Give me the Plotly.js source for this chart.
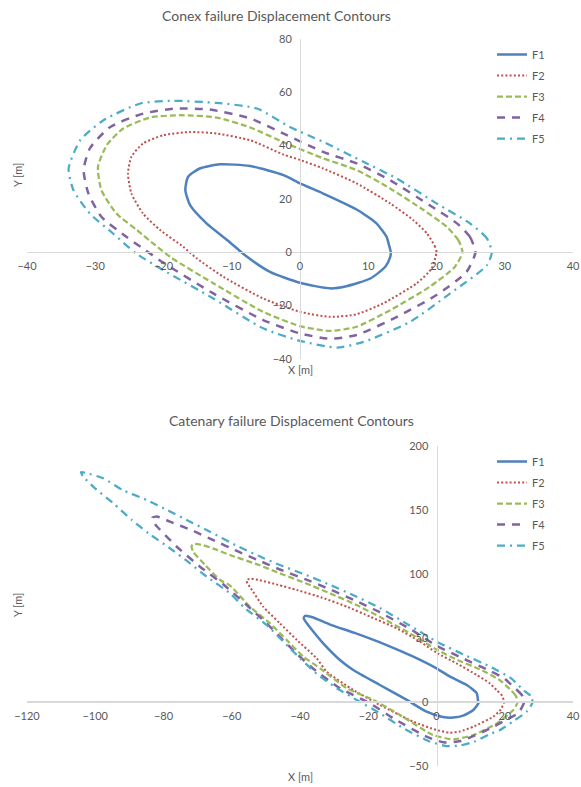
<!DOCTYPE html>
<html><head><meta charset="utf-8">
<script src="https://cdn.plot.ly/plotly-3.0.1.min.js"></script>
<style>html,body{margin:0;padding:0;background:#fff}</style>
</head><body><div id="chart" style="width:581px;height:787px"></div>
<script>
// ---------- data ----------
const seriesNames = ['F1','F2','F3','F4','F5'];

// Conex failure (top chart)
const conexF1x = [13.3, 13.0, 12.7, 11.2, 8.3, 3.4, 0, -2.4, -7.3, -11.7, -14.7, -16.4, -16.8, -16.1, -13.7, -10.5, -8.0, -4.4, 0, 4.4, 6.8, 10.3, 12.5, 13.2, 13.3];
const conexF1y = [0, 3.0, 5.7, 10.8, 16.0, 22.0, 25.8, 28.9, 32.3, 33.0, 31.4, 28.3, 23.3, 17.6, 10.8, 4.2, -1.3, -7.4, -11.5, -13.6, -12.8, -9.9, -5.5, -2.0, 0];
const conexF2x = [20.0, 19.8, 18.6, 16.6, 13.2, 8.3, 3.4, 0, -2.4, -7.3, -12.2, -16.1, -20.0, -23.0, -24.7, -25.2, -24.7, -23.0, -20.5, -17.1, -15.1, -11.2, -5.4, 0, 4.4, 8.3, 12.2, 17.1, 19.3, 20.0];
const conexF2y = [0, 2.0, 7.0, 12.0, 18.3, 25.8, 31.4, 34.6, 36.6, 42.0, 44.5, 45.1, 43.9, 40.8, 35.8, 29.5, 22.0, 14.5, 8.3, 2.0, -2.4, -9.3, -17.4, -22.4, -24.3, -23.3, -19.2, -11.7, -6.1, 0];
const conexF3x = [23.8, 23.2, 21.5, 18.1, 13.2, 8.3, 3.4, -2.0, -7.3, -12.2, -17.6, -22.0, -25.9, -28.3, -29.6, -29.1, -26.9, -23.9, -21.2, -18.9, -12.7, -5.4, 0, 4.4, 8.3, 13.2, 19.0, 22.7, 23.8];
const conexF3y = [0, 4.5, 9.5, 15.8, 23.9, 30.8, 35.2, 40.8, 46.8, 50.5, 51.4, 50.5, 46.4, 40.2, 32.0, 23.3, 14.5, 8.3, 2.6, -2.0, -11.7, -22.4, -27.8, -29.6, -28.0, -21.8, -13.0, -5.5, 0];
const conexF4x = [25.7, 24.9, 23.0, 19.0, 13.2, 8.3, 3.4, -2.0, -7.3, -13.2, -18.1, -23.0, -27.8, -30.8, -31.7, -31.0, -29.1, -25.4, -22.7, -20.0, -12.7, -5.4, 0, 4.4, 8.3, 14.2, 20.0, 24.4, 25.7];
const conexF4y = [0, 5.7, 10.8, 17.6, 27.0, 33.3, 37.6, 44.0, 50.2, 53.5, 53.9, 52.0, 47.0, 38.9, 30.8, 22.0, 13.3, 5.7, 0.8, -4.0, -15.5, -25.5, -30.5, -32.5, -31.1, -24.3, -16.1, -7.4, 0];
const conexF5x = [28.1, 27.4, 24.9, 20.0, 14.2, 9.3, 3.4, -1.5, -6.3, -12.2, -18.6, -23.4, -28.8, -32.2, -33.9, -33.2, -30.8, -27.4, -24.0, -20.0, -12.7, -5.4, 0, 5.4, 9.3, 16.1, 22.0, 27.4, 28.1];
const conexF5y = [0, 5.1, 10.8, 18.3, 27.6, 33.9, 41.4, 47.0, 53.9, 56.0, 56.8, 55.8, 49.5, 42.0, 31.4, 23.3, 14.5, 7.0, -0.5, -6.8, -17.4, -28.6, -33.3, -35.8, -33.7, -26.2, -15.5, -4.9, 0];

// Catenary failure (bottom chart)
const catF1x = [12.2, 11.8, 8.9, 4.0, 0, -6.8, -14.6, -24.0, -31.2, -36.1, -38.5, -38.9, -38.0, -36.7, -33.2, -28.3, -24.4, -16.6, -8.7, -2.9, 1.5, 4.9, 8.0, 10.8, 12.3, 12.2];
const catF1y = [0.2, 6.8, 13.3, 19.8, 26.3, 35.4, 44.5, 54.0, 60.5, 66.0, 67.3, 65.5, 61.5, 57.0, 45.8, 32.8, 25.0, 13.3, 1.6, -7.6, -11.5, -12.2, -10.5, -6.3, -1.0, 0.2];
const catF2x = [19.8, 19.2, 17.6, 15.4, 11.8, 6.0, 0, -5.0, -11.7, -19.3, -26.3, -33.5, -40.9, -46.4, -52.0, -54.8, -55.6, -55.4, -54.7, -50.8, -45.9, -40.9, -35.1, -32.2, -24.4, -16.6, -6.8, 0, 4.0, 6.9, 10.8, 16.6, 18.8, 19.8];
const catF2y = [0, 5.0, 9.4, 15.0, 21.1, 30.0, 38.5, 47.5, 57.6, 66.5, 74.5, 81.5, 87.5, 91.5, 95.3, 96.4, 95.0, 92.5, 90.0, 74.5, 61.5, 48.4, 34.1, 23.7, 9.4, -2.3, -15.4, -21.9, -24.0, -23.0, -19.3, -11.5, -6.0, 0];
const catF3x = [23.8, 23.2, 21.5, 18.6, 12.7, 6.0, 0, -8.0, -16.6, -24.0, -31.2, -38.5, -45.9, -52.0, -60.5, -64.5, -68.5, -71.2, -71.8, -71.3, -67.8, -63.4, -60.5, -54.7, -48.8, -43.9, -39.0, -34.1, -26.3, -18.5, -10.7, -1.0, 4.9, 10.8, 17.7, 22.5, 23.8];
const catF3y = [0, 5.0, 10.0, 17.0, 25.5, 33.0, 41.0, 54.0, 66.5, 76.5, 84.9, 93.0, 100.5, 107.0, 114.8, 119.0, 122.6, 123.5, 121.5, 117.4, 107.0, 95.3, 91.0, 74.5, 61.5, 48.4, 35.4, 26.3, 10.7, 1.6, -10.2, -25.8, -29.2, -25.8, -16.7, -6.3, 0];
const catF4x = [25.7, 25.0, 22.5, 19.7, 14.7, 7.8, 0, -8.0, -16.6, -24.0, -31.2, -38.5, -45.9, -52.0, -58.5, -65.4, -72.0, -78.1, -82.0, -83.3, -82.5, -76.1, -69.3, -62.5, -59.5, -55.6, -49.8, -45.9, -40.9, -36.1, -28.3, -19.5, -12.7, -2.9, 2.0, 7.0, 15.5, 21.0, 24.0, 25.7];
const catF4y = [0, 5.5, 12.0, 18.8, 25.5, 34.0, 44.0, 57.5, 70.0, 79.5, 88.0, 96.0, 103.5, 110.5, 118.0, 126.5, 134.5, 140.9, 145.0, 144.0, 139.0, 121.3, 105.7, 92.0, 84.9, 75.8, 61.5, 51.0, 37.5, 26.0, 10.7, -1.0, -12.7, -27.1, -31.5, -30.5, -21.0, -13.0, -8.8, 0];
const catF5x = [28.2, 27.5, 25.4, 21.9, 15.7, 8.0, 0.5, -8.0, -16.6, -24.0, -31.2, -38.5, -45.9, -52.0, -58.5, -66.4, -72.2, -78.9, -84.9, -91.9, -97.6, -102.8, -104.2, -103.5, -100.1, -94.7, -89.3, -84.4, -78.1, -72.2, -67.3, -60.5, -56.1, -49.8, -42.0, -35.1, -29.2, -23.4, -16.6, -9.7, -1.9, 3.0, 6.9, 11.0, 15.7, 18.6, 22.5, 26.4, 28.2];
const catF5y = [0, 5.0, 9.4, 18.5, 27.6, 37.0, 46.5, 60.0, 73.5, 83.0, 91.5, 99.5, 107.0, 114.0, 122.0, 133.1, 140.9, 149.9, 157.8, 165.5, 174.7, 179.0, 179.6, 176.0, 167.0, 155.2, 142.2, 131.8, 120.1, 108.3, 97.9, 84.9, 73.2, 60.2, 39.5, 22.0, 10.7, 1.6, -8.8, -20.5, -31.0, -34.4, -34.0, -31.0, -25.0, -21.9, -15.0, -7.6, 0];

const conexTickVals = {x: [-40, -30, -20, -10, 0, 10, 20, 30, 40], y: [-40, -20, 0, 20, 40, 60, 80]};
const catTickVals = {x: [-120, -100, -80, -60, -40, -20, 0, 20, 40], y: [-50, 0, 50, 100, 150, 200]};

// ---------- styles ----------
const colors = ['#4F81BD', '#C0504D', '#9BBB59', '#8064A2', '#4BACC6'];
const dashes = ['solid', '2px,2.2px', '6px,3px', '8px,7px', '8px,5px,2px,5px'];
const widths = [2.5, 2, 2.25, 2.5, 2.25];
const FONT = 'Lato, "Open Sans", sans-serif';
const GRAY = '#595959';
const W = 581, H = 787;
const px = v => v / W, py = v => 1 - v / H;

const conexX = [conexF1x, conexF2x, conexF3x, conexF4x, conexF5x];
const conexY = [conexF1y, conexF2y, conexF3y, conexF4y, conexF5y];
const catX = [catF1x, catF2x, catF3x, catF4x, catF5x];
const catY = [catF1y, catF2y, catF3y, catF4y, catF5y];

const traces = [];
seriesNames.forEach((n, i) => {
  traces.push({x: conexX[i], y: conexY[i], name: n, type: 'scatter', mode: 'lines',
    xaxis: 'x', yaxis: 'y', legend: 'legend', legendgroup: 'a' + i,
    line: {color: colors[i], width: widths[i], dash: dashes[i], shape: 'spline', smoothing: 0.6}});
});
seriesNames.forEach((n, i) => {
  traces.push({x: catX[i], y: catY[i], name: n, type: 'scatter', mode: 'lines',
    xaxis: 'x2', yaxis: 'y2', legend: 'legend2', legendgroup: 'b' + i,
    line: {color: colors[i], width: widths[i], dash: dashes[i], shape: 'spline', smoothing: 0.5}});
});

const tickFont = {family: FONT, size: 11, color: GRAY};
function axis(extra) {
  return Object.assign({showgrid: false, zeroline: false, showline: true, linecolor: '#D9D9D9',
    linewidth: 1.2, ticks: '', tickfont: tickFont, fixedrange: true, anchor: 'free'}, extra);
}

const topDom = [py(358.7), py(39)];
const botDom = [py(766), py(446)];
const xDom = [px(27), px(573)];

const layout = {
  width: W, height: H, autosize: false,
  margin: {l: 0, r: 0, t: 0, b: 0, pad: 0},
  paper_bgcolor: '#fff', plot_bgcolor: 'rgba(0,0,0,0)',
  showlegend: true,
  xaxis: axis({domain: xDom, range: [-40, 40], tickvals: conexTickVals.x, position: py(252), ticklabelstandoff: 4}),
  yaxis: axis({domain: topDom, range: [-40, 80], tickvals: conexTickVals.y, position: px(300), ticklabelstandoff: 6}),
  xaxis2: axis({domain: xDom, range: [-120, 40], tickvals: catTickVals.x, position: py(702), ticklabelstandoff: 4, linewidth: 2}),
  yaxis2: axis({domain: botDom, range: [-50, 200], tickvals: catTickVals.y, position: px(436.5), ticklabelstandoff: 6}),
  legend: {x: px(492), y: py(40), xanchor: 'left', yanchor: 'top', bgcolor: 'rgba(0,0,0,0)',
    font: {family: FONT, size: 11, color: GRAY}, traceorder: 'grouped', tracegroupgap: 2, itemwidth: 30},
  legend2: {x: px(492), y: py(447), xanchor: 'left', yanchor: 'top', bgcolor: 'rgba(0,0,0,0)',
    font: {family: FONT, size: 11, color: GRAY}, traceorder: 'grouped', tracegroupgap: 2, itemwidth: 30},
  annotations: [
    {text: 'Conex failure Displacement Contours', xref: 'paper', yref: 'paper', x: px(276), y: py(15),
      xanchor: 'center', yanchor: 'middle', showarrow: false, font: {family: FONT, size: 14, color: GRAY}},
    {text: 'Catenary failure Displacement Contours', xref: 'paper', yref: 'paper', x: px(291), y: py(421),
      xanchor: 'center', yanchor: 'middle', showarrow: false, font: {family: FONT, size: 14, color: GRAY}},
    {text: 'X [m]', xref: 'paper', yref: 'paper', x: px(300), y: py(369), xanchor: 'center', yanchor: 'middle',
      showarrow: false, font: {family: FONT, size: 11, color: GRAY}},
    {text: 'X [m]', xref: 'paper', yref: 'paper', x: px(300), y: py(776), xanchor: 'center', yanchor: 'middle',
      showarrow: false, font: {family: FONT, size: 11, color: GRAY}},
    {text: 'Y [m]', xref: 'paper', yref: 'paper', x: px(17), y: py(175), xanchor: 'center', yanchor: 'middle',
      textangle: -90, showarrow: false, font: {family: FONT, size: 11, color: GRAY}},
    {text: 'Y [m]', xref: 'paper', yref: 'paper', x: px(17), y: py(605), xanchor: 'center', yanchor: 'middle',
      textangle: -90, showarrow: false, font: {family: FONT, size: 11, color: GRAY}}
  ]
};

Plotly.newPlot('chart', traces, layout, {displayModeBar: false, staticPlot: true});
</script>
</body></html>
